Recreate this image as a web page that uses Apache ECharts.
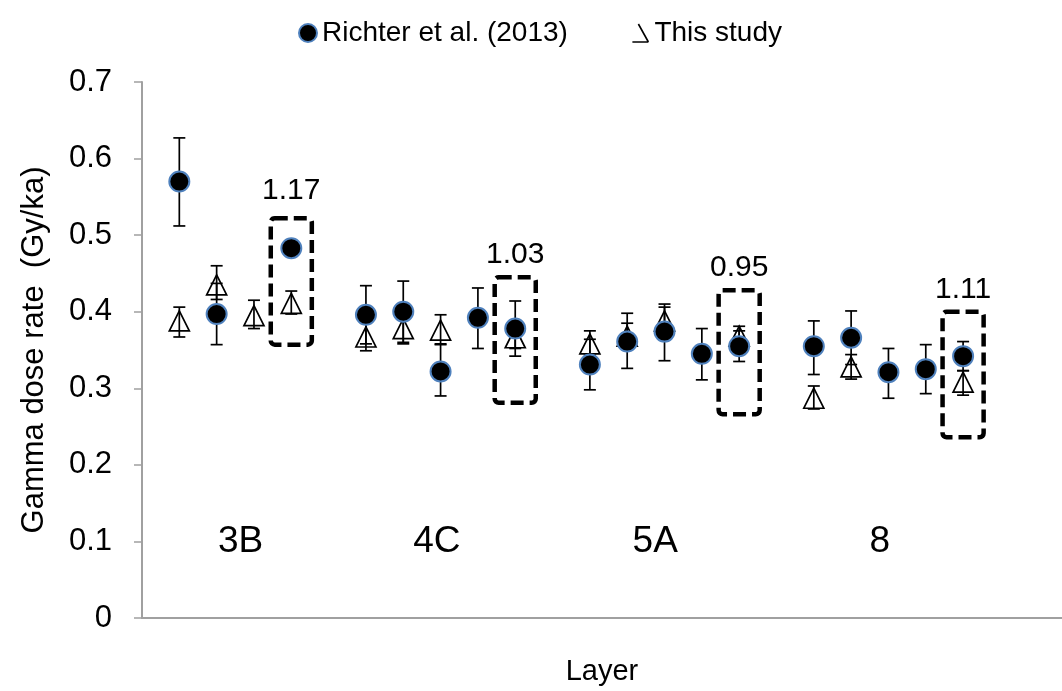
<!DOCTYPE html>
<html>
<head>
<meta charset="utf-8">
<script src="https://cdn.jsdelivr.net/npm/echarts@6/dist/echarts.min.js"></script>
<style>
html,body{margin:0;padding:0;background:#fff;}
#chart{width:1062px;height:691px;}
</style>
</head>
<body>
<div id="chart"></div>
<script>
// ---- data ----
const richterX    = [1, 2, 4, 6, 7, 8, 9, 10, 12, 13, 14, 15, 16, 18, 19, 20, 21, 22];
const richterVal  = [0.570, 0.397, 0.483, 0.396, 0.400, 0.322, 0.392, 0.378, 0.331, 0.361, 0.374, 0.345, 0.355, 0.355, 0.366, 0.321, 0.325, 0.342];
const richterLow  = [0.512, 0.357, null, 0.358, 0.360, 0.290, 0.352, 0.342, 0.298, 0.326, 0.336, 0.311, 0.335, 0.318, 0.331, 0.287, 0.293, 0.323];
const richterHigh = [0.627, 0.437, null, 0.434, 0.440, 0.357, 0.431, 0.414, 0.364, 0.398, 0.410, 0.378, 0.375, 0.388, 0.401, 0.352, 0.357, 0.361];

const studyX    = [1, 2, 3, 4, 6, 7, 8, 10, 12, 13, 14, 16, 18, 19, 22];
const studyVal  = [0.388, 0.435, 0.395, 0.411, 0.367, 0.378, 0.376, 0.366, 0.358, 0.368, 0.388, 0.368, 0.287, 0.328, 0.308];
const studyLow  = [0.367, 0.416, 0.378, 0.397, 0.349, 0.358, 0.358, 0.352, 0.343, 0.355, 0.370, 0.355, 0.273, 0.312, 0.291];
const studyHigh = [0.406, 0.460, 0.415, 0.427, 0.385, 0.396, 0.396, 0.382, 0.375, 0.385, 0.406, 0.381, 0.303, 0.344, 0.323];

const groupNames = ['3B', '4C', '5A', '8'];
const groupX     = [2.64, 7.9, 13.75, 19.77];
const groupY     = [0.1, 0.1, 0.1, 0.1];

const ratioText   = ['1.17', '1.03', '0.95', '1.11'];
const boxX        = [4, 10, 16, 22];
const boxTop      = [0.522, 0.445, 0.428, 0.400];
const boxBottom   = [0.357, 0.281, 0.266, 0.236];
const ratioLabelY = [0.558, 0.474, 0.458, 0.429];

const yTicks = [0, 0.1, 0.2, 0.3, 0.4, 0.5, 0.6, 0.7];

const FONT = '"Liberation Sans", Arial, sans-serif';

// ---- build ----
const richterData = richterX.map((x, i) => [x, richterVal[i]]);
const studyData = studyX.map((x, i) => [x, studyVal[i]]);
const richterErr = richterX.map((x, i) => [x, richterLow[i], richterHigh[i]]).filter(d => d[1] != null);
const studyErr = studyX.map((x, i) => [x, studyLow[i], studyHigh[i]]);
const boxData = boxX.map((x, i) => [x, boxBottom[i], boxTop[i]]);
const groupData = groupX.map((x, i) => [x, groupY[i], groupNames[i]]);
const ratioData = boxX.map((x, i) => [x, ratioLabelY[i], ratioText[i]]);

function errRender(params, api) {
  const x = api.value(0);
  const lo = api.coord([x, api.value(1)]);
  const hi = api.coord([x, api.value(2)]);
  const cw = 6;
  const style = { stroke: '#000', lineWidth: 1.7 };
  return {
    type: 'group',
    children: [
      { type: 'line', shape: { x1: lo[0], y1: lo[1], x2: hi[0], y2: hi[1] }, style },
      { type: 'line', shape: { x1: lo[0] - cw, y1: lo[1], x2: lo[0] + cw, y2: lo[1] }, style },
      { type: 'line', shape: { x1: hi[0] - cw, y1: hi[1], x2: hi[0] + cw, y2: hi[1] }, style }
    ]
  };
}

function boxRender(params, api) {
  const x = api.value(0);
  const a = api.coord([x - 0.55, api.value(2)]);
  const b = api.coord([x + 0.55, api.value(1)]);
  return {
    type: 'rect',
    shape: { x: a[0], y: a[1], width: b[0] - a[0], height: b[1] - a[1], r: 4 },
    style: { fill: 'none', stroke: '#000', lineWidth: 4.5, lineDash: [13, 6] }
  };
}

function textRender(size) {
  return function (params, api) {
    const p = api.coord([api.value(0), api.value(1)]);
    return {
      type: 'text',
      x: p[0], y: p[1],
      style: { text: groupOrRatio(params), fill: '#000', font: size + 'px ' + FONT,
        textAlign: 'center', textVerticalAlign: 'middle' }
    };
  };
}
function groupOrRatio(params) {
  return params.seriesName === 'groups' ? groupNames[params.dataIndex] : ratioText[params.dataIndex];
}

const chart = echarts.init(document.getElementById('chart'), null, { renderer: 'canvas' });
chart.setOption({
  animation: false,
  backgroundColor: '#fff',
  textStyle: { fontFamily: FONT },
  legend: {
    top: 14,
    left: 293,
    itemGap: 62,
    itemWidth: 18,
    itemHeight: 18,
    textStyle: { fontFamily: FONT, fontSize: 28, color: '#000' },
    data: [
      { name: 'Richter et al. (2013)', icon: 'circle',
        itemStyle: { color: '#000', borderColor: '#4F81BD', borderWidth: 2 } },
      { name: 'This study', icon: 'path://M0,20 L16,20 M6,2 L16,20',
        itemStyle: { color: 'none', borderColor: '#000', borderWidth: 1.6 } }
    ]
  },
  grid: { left: 142, right: 0, top: 82, bottom: 66, containLabel: false },
  xAxis: {
    type: 'value', min: 0, max: 24.65,
    name: 'Layer', nameLocation: 'middle', nameGap: 39,
    nameTextStyle: { fontFamily: FONT, fontSize: 29, color: '#000' },
    axisLine: { show: true, onZero: false, lineStyle: { color: '#a0a0a0', width: 2 } },
    axisTick: { show: false }, axisLabel: { show: false }, splitLine: { show: false }
  },
  yAxis: {
    type: 'value', min: 0, max: 0.7, interval: 0.1,
    name: 'Gamma dose rate  (Gy/ka)', nameLocation: 'middle', nameGap: 92, nameRotate: 90,
    nameTextStyle: { fontFamily: FONT, fontSize: 31, color: '#000' },
    axisLine: { show: true, lineStyle: { color: '#a0a0a0', width: 2 } },
    axisTick: { show: true, inside: false, length: 8, lineStyle: { color: '#a0a0a0', width: 1.5 } },
    axisLabel: { fontFamily: FONT, fontSize: 31, color: '#000', margin: 30,
      formatter: v => { const t = yTicks.find(k => Math.abs(k - v) < 1e-9); return t === undefined ? '' : String(t); } },
    splitLine: { show: false }
  },
  series: [
    { type: 'custom', name: 'boxes', renderItem: boxRender, data: boxData, z: 1, silent: true },
    { type: 'custom', name: 'studyErr', renderItem: errRender, data: studyErr, z: 2, silent: true },
    { type: 'custom', name: 'richterErr', renderItem: errRender, data: richterErr, z: 2, silent: true },
    { type: 'scatter', name: 'This study', data: studyData, symbol: 'triangle', symbolSize: [20, 20], z: 3,
      itemStyle: { color: 'rgba(0,0,0,0)', borderColor: '#000', borderWidth: 1.7, opacity: 1 } },
    { type: 'scatter', name: 'Richter et al. (2013)', data: richterData, symbol: 'circle', symbolSize: 20, z: 4,
      itemStyle: { color: '#000', borderColor: '#4F81BD', borderWidth: 2, opacity: 1 } },
    { type: 'custom', name: 'groups', data: groupData, renderItem: textRender(37), z: 5, silent: true },
    { type: 'custom', name: 'ratios', data: ratioData, renderItem: textRender(30), z: 5, silent: true }
  ]
});
</script>
</body>
</html>
